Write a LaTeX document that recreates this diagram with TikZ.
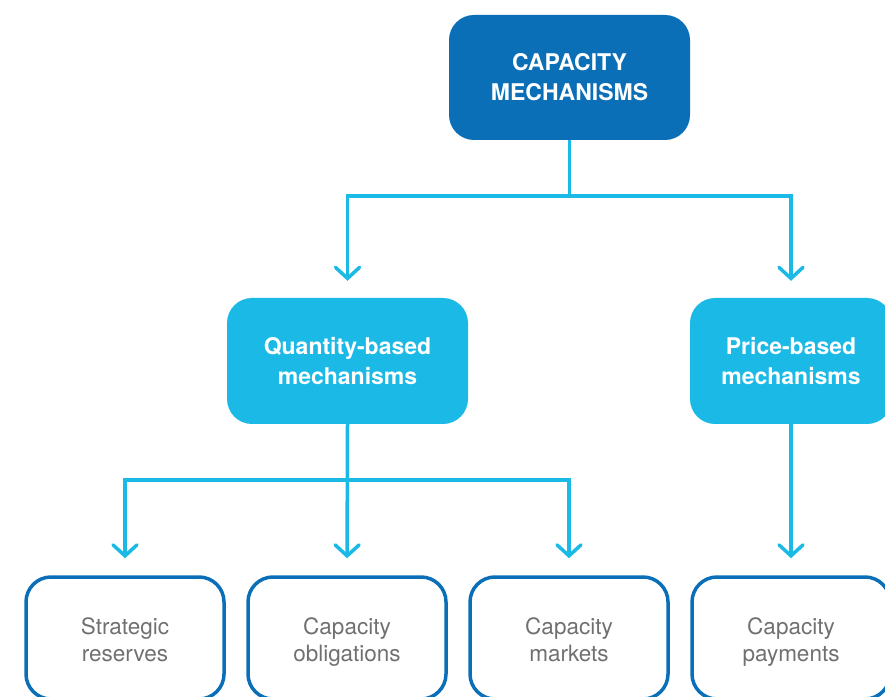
\documentclass[tikz,border=0pt]{standalone}
\usepackage{fontspec}
\setmainfont{TeX Gyre Heros}
\usetikzlibrary{arrows.meta,positioning}

\definecolor{darkblue}{HTML}{0A6FB7}
\definecolor{lightblue}{HTML}{1BB9E6}
\definecolor{textgray}{HTML}{707070}

\begin{document}
\begin{tikzpicture}[x=1pt,y=1pt,
 box/.style={rounded corners=25pt,align=center,inner sep=0pt,execute at begin node=\rule{0pt}{52.5pt},execute at end node=\rule[-6pt]{0pt}{6pt}},
 mainbox/.style={box,fill=darkblue,text=white,font=\fontsize{23}{30}\selectfont\bfseries,minimum width=241pt,minimum height=125pt},
 groupbox/.style={box,fill=lightblue,text=white,font=\fontsize{23}{30}\selectfont\bfseries,minimum height=126pt},
 leafbox/.style={box,execute at begin node=\rule{0pt}{46pt},draw=darkblue,line width=3.5pt,text=textgray,font=\fontsize{22.5}{27}\selectfont,minimum width=198pt,minimum height=122pt},
 arr/.style={draw=lightblue,line width=3.5pt,-{Straight Barb[length=11pt,width=24pt,line cap=round]},shorten >=17pt}]
\useasboundingbox (0,0) rectangle (885,696);

\node[mainbox] (cm) at (569.5,618.5) {CAPACITY\\MECHANISMS};
\node[groupbox,minimum width=241pt] (qty) at (347.5,335) {Quantity-based\\mechanisms};
\node[groupbox,minimum width=202pt] (price) at (791,335) {Price-based\\mechanisms};

\node[leafbox] (sr) at (125,58) {Strategic\\reserves};
\node[leafbox] (co) at (347,58) {Capacity\\obligations};
\node[leafbox] (cmk) at (569,58) {Capacity\\markets};
\node[leafbox] (cp) at (791,58) {Capacity\\payments};

\draw[arr] (cm.south) -- ++(0,-56) -| (qty.north);
\draw[arr] (cm.south) -- ++(0,-56) -| (price.north);

\draw[arr] (qty.south) -- ++(0,-56) -| (sr.north);
\draw[arr] (qty.south) -- (co.north);
\draw[arr] (qty.south) -- ++(0,-56) -| (cmk.north);
\draw[arr] (price.south) -- (cp.north);
\end{tikzpicture}
\end{document}
